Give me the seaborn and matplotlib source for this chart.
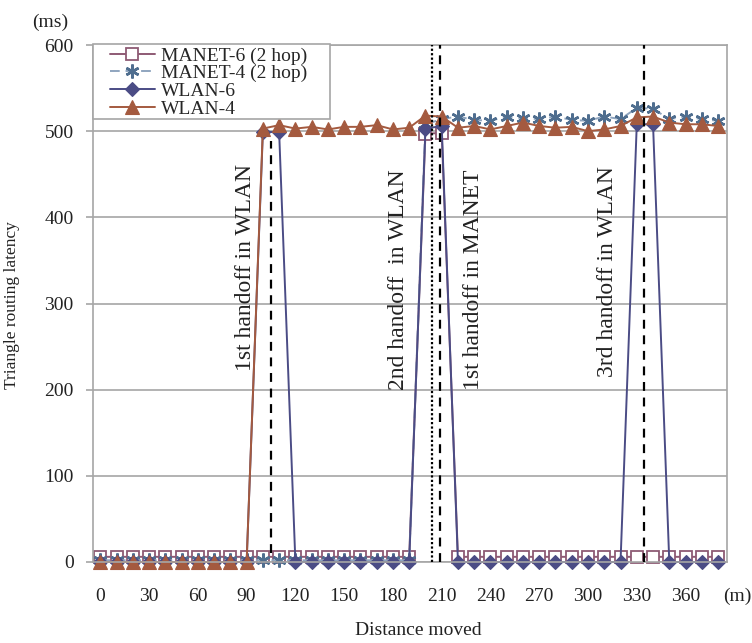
import matplotlib
matplotlib.use("Agg")
import matplotlib.pyplot as plt
import seaborn as sns
from matplotlib.patches import Rectangle

# distance moved (m), one sample every 10 m
distance = [0, 10, 20, 30, 40, 50, 60, 70, 80, 90,
            100, 110, 120, 130, 140, 150, 160, 170, 180, 190,
            200, 210, 220, 230, 240, 250, 260, 270, 280, 290,
            300, 310, 320, 330, 340, 350, 360, 370, 380]

# triangle routing latency (ms)
manet6 = [6, 6, 6, 6, 6, 6, 6, 6, 6, 6,
          6, 6, 6, 6, 6, 6, 6, 6, 6, 6,
          497, 498, 6, 6, 6, 6, 6, 6, 6, 6,
          6, 6, 6, 6, 6, 6, 6, 6, 6]
manet4 = [2, 2, 2, 2, 2, 2, 2, 2, 2, 2,
          2, 2, 2, 2, 2, 2, 2, 2, 2, 2,
          508, 514, 517, 513, 512, 517, 515, 514, 517, 513,
          512, 517, 514, 527, 526, 514, 517, 514, 512]
wlan6 = [0, 0, 0, 0, 0, 0, 0, 0, 0, 0,
         499, 499, 0, 0, 0, 0, 0, 0, 0, 0,
         503, 506, 0, 0, 0, 0, 0, 0, 0, 0,
         0, 0, 0, 508, 508, 0, 0, 0, 0]
wlan4 = [0, 0, 0, 0, 0, 0, 0, 0, 0, 0,
         503, 507, 503, 505, 502, 505, 505, 507, 502, 504,
         518, 517, 504, 506, 502, 506, 510, 506, 504, 505,
         500, 502, 506, 516, 517, 510, 508, 508, 506]

# handoff events: (position, bottom, top, style)
handoff_x = [105, 204.2, 208.8, 334.5]
handoff_lo = [10, 0, 0, 0]
handoff_hi = [489, 600, 600, 600]
handoff_ls = [(0, (4, 3)), (0, (1, 1)), (0, (4, 3)), (0, (4, 3))]

notes = ["1st handoff in WLAN", "2nd handoff  in WLAN",
         "1st handoff in MANET", "3rd handoff in WLAN"]
note_x = [89.4, 183.4, 229.5, 311.7]
note_y = [342, 328, 328, 337]

xticks = [0, 30, 60, 90, 120, 150, 180, 210, 240, 270, 300, 330, 360]
yticks = [0, 100, 200, 300, 400, 500, 600]

sns.set_style("white")
plt.rcParams["font.family"] = ["Liberation Serif", "DejaVu Serif"]

c_m6 = "#8e5a74"
c_m4 = "#4f6e8f"
c_m4_line = "#8fa5bf"
c_w6 = "#4b4c85"
c_w4 = "#a45a3f"
grey = "#a6a6a6"
ink = "#222222"

fig = plt.figure(figsize=(7.52, 6.43), dpi=100)
ax = fig.add_axes([93 / 752, 1 - 562 / 643, (727 - 93) / 752, (562 - 45) / 643])

sns.lineplot(x=distance, y=manet6, ax=ax, color=c_m6, linewidth=1.4,
             marker="s", markersize=9, markerfacecolor="white",
             markeredgecolor=c_m6, markeredgewidth=1.3,
             label="MANET-6 (2 hop)", clip_on=False)
sns.lineplot(x=distance, y=manet4, ax=ax, color=c_m4_line, linewidth=1.4,
             linestyle=(0, (5, 3)), marker=(6, 2, 0), markersize=10,
             markeredgecolor=c_m4, markeredgewidth=1.8,
             label="MANET-4 (2 hop)", clip_on=False)
sns.lineplot(x=distance, y=wlan6, ax=ax, color=c_w6, linewidth=1.4,
             marker="D", markersize=7.5, markerfacecolor=c_w6,
             markeredgecolor=c_w6, markeredgewidth=0.8,
             label="WLAN-6", clip_on=False)
sns.lineplot(x=distance, y=wlan4, ax=ax, color=c_w4, linewidth=1.4,
             marker="^", markersize=10, markerfacecolor=c_w4,
             markeredgecolor=c_w4, markeredgewidth=0.8,
             label="WLAN-4", clip_on=False)

for hx, lo, hi, ls in zip(handoff_x, handoff_lo, handoff_hi, handoff_ls):
    ax.plot([hx, hx], [lo, hi], color="black", linewidth=1.6, linestyle=ls,
            zorder=5)

for txt, tx, ty in zip(notes, note_x, note_y):
    ax.text(tx, ty, txt, rotation=90, ha="center", va="center",
            fontsize=17, color=ink)

ax.set_xlim(-4.5, 385.5)
ax.set_ylim(0, 600)
ax.set_xticks(xticks)
ax.set_yticks(yticks)
ax.yaxis.grid(True, color=grey, linewidth=1.2)
ax.set_axisbelow(True)
for s in ax.spines.values():
    s.set_color(grey)
    s.set_linewidth(1.2)
ax.tick_params(axis="x", length=0, pad=19, labelsize=14, colors=ink)
ax.tick_params(axis="y", length=5, width=1.2, color=grey, pad=9,
               labelsize=14, labelcolor=ink, left=True)

ax.set_ylabel("Triangle routing latency", fontsize=12.5, color=ink)
ax.yaxis.set_label_coords((20 - 93) / 634, 0.497)
ax.set_xlabel("Distance moved", fontsize=14, color=ink)
ax.xaxis.set_label_coords((418 - 93) / 634, (562 - 622) / 517)

fig.text(50 / 752, 1 - 22 / 643, "(ms)", ha="center", va="center",
         fontsize=14, color=ink)
fig.text(737 / 752, 1 - 596 / 643, "(m)", ha="center", va="center",
         fontsize=14, color=ink)

# legend box drawn as its own frame, like the spreadsheet original
box = Rectangle((93 / 752, 1 - 119 / 643), (330 - 93) / 752, (119 - 44) / 643,
                transform=fig.transFigure, facecolor="white", edgecolor=grey,
                linewidth=1.2, zorder=6)
fig.add_artist(box)
leg = ax.legend(loc="upper left", bbox_to_anchor=(110 / 752, 1 - 47 / 643),
                bbox_transform=fig.transFigure, borderaxespad=0, borderpad=0,
                fontsize=14, frameon=False, handlelength=2.3,
                handletextpad=0.3, labelspacing=0)
leg.set_zorder(7)
fig.legends.append(leg)
ax.get_legend().remove()

fig.savefig("out.png", dpi=100)
